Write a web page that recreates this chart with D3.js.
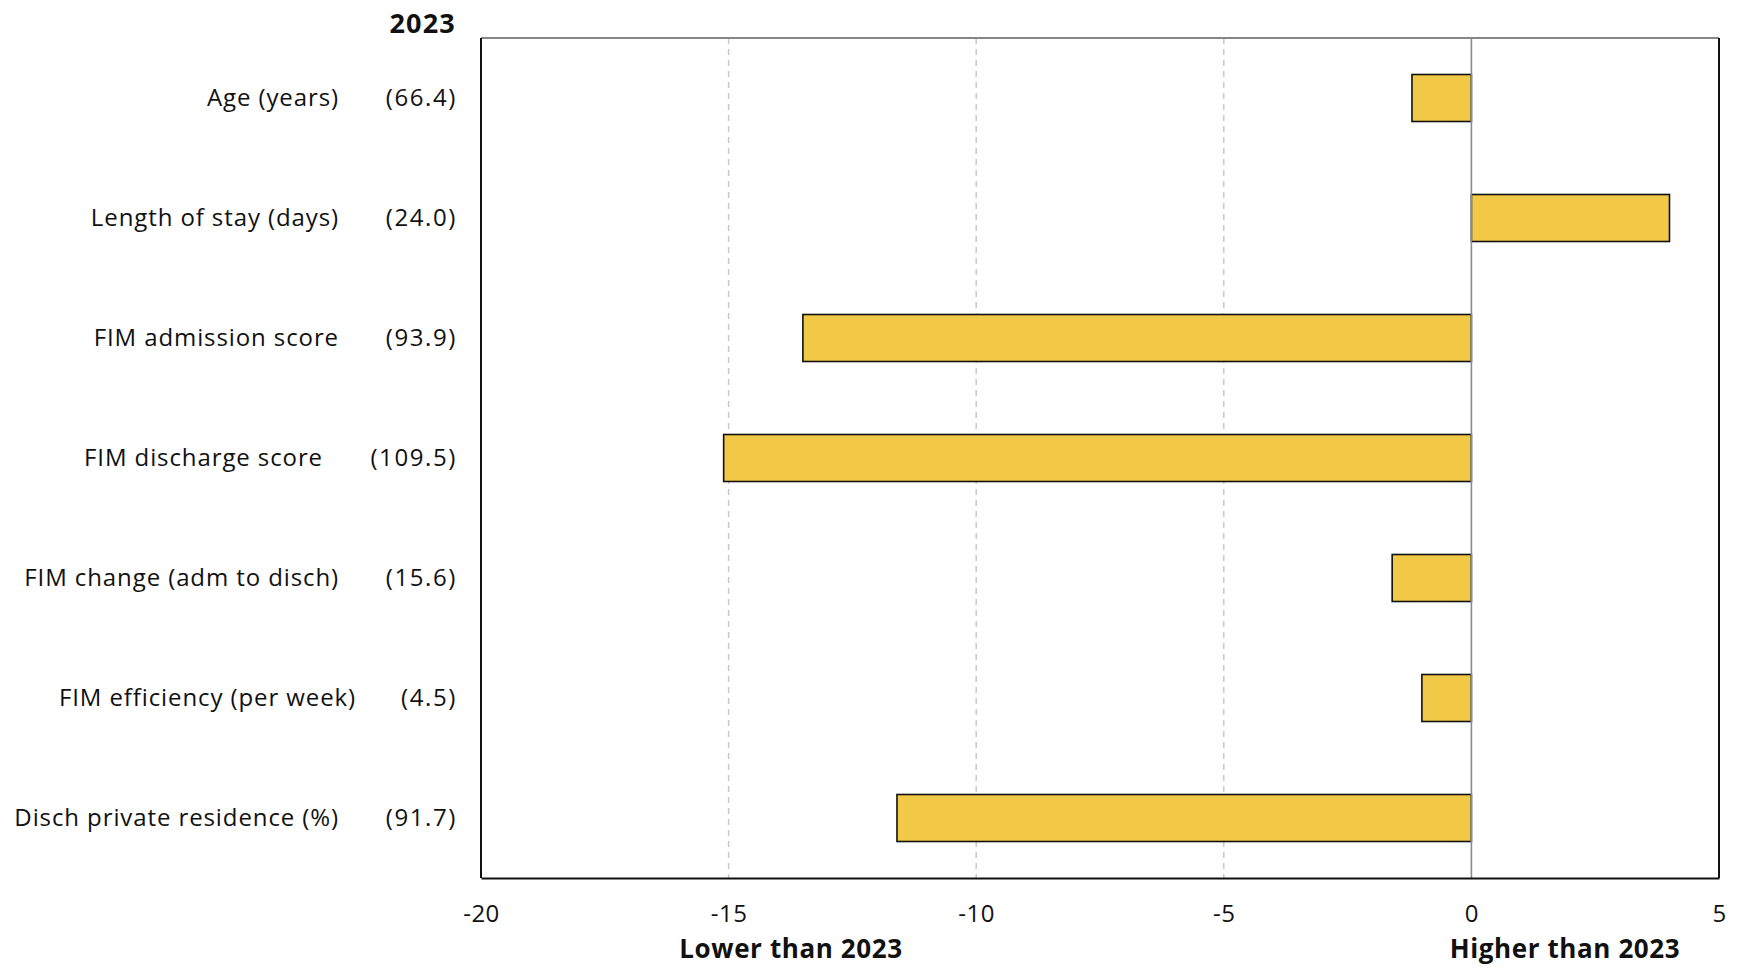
<!DOCTYPE html>
<html>
<head>
<meta charset="utf-8">
<script src="https://cdn.jsdelivr.net/npm/d3@7"></script>
<style>
  html, body { margin: 0; padding: 0; background: #fff; }
  svg { display: block; font-family: "Open Sans", Lato, sans-serif; }
</style>
</head>
<body>
<svg id="chart" width="1739" height="973"></svg>
<script>
// ---- data ----
const categories = [
  "Age (years)",
  "Length of stay (days)",
  "FIM admission score",
  "FIM discharge score",
  "FIM change (adm to disch)",
  "FIM efficiency (per week)",
  "Disch private residence (%)"
];
const baseline2023 = ["(66.4)", "(24.0)", "(93.9)", "(109.5)", "(15.6)", "(4.5)", "(91.7)"];
const differences = [-1.2, 4.0, -13.5, -15.1, -1.6, -1.0, -11.6];
const xTicks = [-20, -15, -10, -5, 0, 5];
const baselineHeader = "2023";
const lowerLabel = "Lower than 2023";
const higherLabel = "Higher than 2023";

// ---- layout ----
const W = 1739, H = 973;
const m = { left: 481, right: 20, top: 38, bottom: 95 };
const labelRight = 339;
const labelNudge = [0, 0, 0, -16, 0, 17, 0];
const valueRight = 457;
const FONT = "'Open Sans', Lato, sans-serif";

const svg = d3.select("#chart");

const x = d3.scaleLinear().domain([-20, 5]).range([m.left, W - m.right]);
const yb = d3.scaleBand().domain(categories).range([m.top, H - m.bottom]);

// gridlines
svg.append("g").selectAll("line")
  .data(xTicks.filter(d => d > -20 && d < 0))
  .join("line")
  .attr("x1", d => x(d)).attr("x2", d => x(d))
  .attr("y1", m.top).attr("y2", H - m.bottom)
  .attr("stroke", "#c8c8c8").attr("stroke-width", 1.5)
  .attr("stroke-dasharray", "6,5");

// bars
svg.append("g").selectAll("rect")
  .data(differences)
  .join("rect")
  .attr("x", d => x(Math.min(0, d)))
  .attr("width", d => Math.abs(x(d) - x(0)))
  .attr("y", (d, i) => yb(categories[i]) + yb.bandwidth() / 2 - 23.5)
  .attr("height", 47)
  .attr("fill", "#F2C946")
  .attr("stroke", "#111")
  .attr("stroke-width", 1.6);

// zero line
svg.append("line")
  .attr("x1", x(0)).attr("x2", x(0))
  .attr("y1", m.top).attr("y2", H - m.bottom)
  .attr("stroke", "#8c8c8c").attr("stroke-width", 1.6);

// frame
svg.append("line").attr("x1", m.left).attr("x2", W - m.right).attr("y1", m.top).attr("y2", m.top)
  .attr("stroke", "#868686").attr("stroke-width", 2.2);
svg.append("line").attr("x1", m.left).attr("x2", m.left).attr("y1", m.top).attr("y2", H - m.bottom)
  .attr("stroke", "#111").attr("stroke-width", 2);
svg.append("line").attr("x1", W - m.right).attr("x2", W - m.right).attr("y1", m.top).attr("y2", H - m.bottom)
  .attr("stroke", "#111").attr("stroke-width", 2);

// bottom axis
const xAxis = d3.axisBottom(x).tickValues(xTicks).tickSize(0).tickPadding(27).tickFormat(d => String(d));
const gx = svg.append("g").attr("transform", `translate(0,${H - m.bottom})`).call(xAxis);
gx.select(".domain").attr("stroke", "#111").attr("stroke-width", 2);
gx.selectAll("text").attr("font-size", 24).attr("fill", "#111").style("font-family", FONT)
  .attr("letter-spacing", 0.5);

// category labels
svg.append("g").selectAll("text")
  .data(categories)
  .join("text")
  .attr("x", (d, i) => labelRight + labelNudge[i])
  .attr("y", d => yb(d) + yb.bandwidth() / 2)
  .attr("dy", "0.35em")
  .attr("text-anchor", "end")
  .attr("font-size", 24)
  .attr("letter-spacing", 0.9)
  .attr("fill", "#111")
  .text(d => d);

// baseline values
svg.append("g").selectAll("text")
  .data(baseline2023)
  .join("text")
  .attr("x", valueRight)
  .attr("y", (d, i) => yb(categories[i]) + yb.bandwidth() / 2)
  .attr("dy", "0.35em")
  .attr("text-anchor", "end")
  .attr("font-size", 24)
  .attr("letter-spacing", 1.6)
  .attr("fill", "#111")
  .text(d => d);

// header
svg.append("text").attr("x", valueRight - 1).attr("y", 33).attr("text-anchor", "end")
  .attr("font-size", 27).attr("font-weight", "bold").attr("letter-spacing", 1.2)
  .attr("fill", "#111").text(baselineHeader);

// direction labels
svg.append("text").attr("x", 791).attr("y", 958).attr("text-anchor", "middle")
  .attr("font-size", 26).attr("font-weight", "bold").attr("letter-spacing", 0.6)
  .attr("fill", "#111").text(lowerLabel);
svg.append("text").attr("x", 1565).attr("y", 958).attr("text-anchor", "middle")
  .attr("font-size", 26).attr("font-weight", "bold").attr("letter-spacing", 0.6)
  .attr("fill", "#111").text(higherLabel);
</script>
</body>
</html>
